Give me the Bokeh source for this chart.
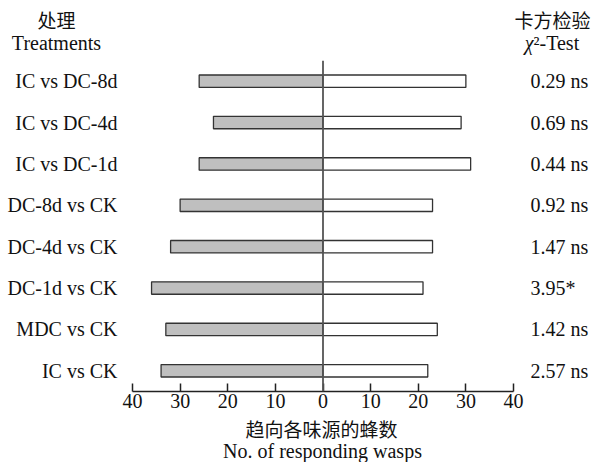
from bokeh.plotting import figure
from bokeh.layouts import column
from bokeh.models import (FactorRange, Range1d, CategoricalAxis, FixedTicker,
                          CustomJSTickFormatter, Span)
from bokeh.core.properties import value
from bokeh.embed import file_html
from bokeh.resources import INLINE

treatments = ["IC vs DC-8d", "IC vs DC-4d", "IC vs DC-1d", "DC-8d vs CK",
              "DC-4d vs CK", "DC-1d vs CK", "MDC vs CK", "IC vs CK"]
left_counts = [26, 23, 26, 30, 32, 36, 33, 34]
right_counts = [30, 29, 31, 23, 23, 21, 24, 22]
chi_labels = ["0.29 ns", "0.69 ns", "0.44 ns", "0.92 ns",
              "1.47 ns", "3.95*", "1.42 ns", "2.57 ns"]
x_ticks = [-40, -30, -20, -10, 0, 10, 20, 30, 40]
header_left = ["处理", "Treatments"]
header_right = ["卡方检验", "χ", "²-Test"]
x_title = ["趋向各味源的蜂数", "No. of responding wasps"]

SERIF = "Liberation Serif"
CJK = "Noto Sans CJK SC"
FS = "20px"
CFS = "19px"
INK = "#111111"
W = 600
H_HDR = 60
H_MAIN = 353
H_FTR = 49


def blank_fig(h):
    f = figure(width=W, height=h, output_backend="svg", toolbar_location=None,
               x_range=Range1d(0, W), y_range=Range1d(h, 0), title=None,
               min_border=0)
    f.frame_align = False
    f.axis.visible = False
    f.grid.visible = False
    f.outline_line_color = None
    return f


# ---- header ----
hdr = blank_fig(H_HDR)
hdr.text(x=[56, 552], y=[19, 19], text=[header_left[0], header_right[0]],
         text_font=value(CJK), text_font_size=value(CFS), text_color=INK,
         text_align="center", text_baseline="middle")
hdr.text(x=[56], y=[42], text=[header_left[1]],
         text_font=value(SERIF), text_font_size=value(FS), text_color=INK,
         text_align="center", text_baseline="middle")
hdr.text(x=[533], y=[42], text=[header_right[1]],
         text_font=value(SERIF), text_font_size=value(FS), text_color=INK,
         text_font_style="italic", text_align="right", text_baseline="middle")
hdr.text(x=[533], y=[42], text=[header_right[2]],
         text_font=value(SERIF), text_font_size=value(FS), text_color=INK,
         text_align="left", text_baseline="middle")

# ---- main ----
p = figure(width=W, height=H_MAIN, output_backend="svg", toolbar_location=None,
           title=None,
           x_range=Range1d(-40, 40),
           y_range=FactorRange(factors=list(reversed(treatments))),
           min_border_left=132, min_border_right=W - 513,
           min_border_top=0, min_border_bottom=22)
p.frame_align = False
p.extra_y_ranges = {"chi": FactorRange(factors=list(reversed(chi_labels)))}

p.hbar(y=treatments, left=[-v for v in left_counts], right=0, height=0.30,
       fill_color="#bfbfbf", line_color="#333333", line_width=1.3)
p.hbar(y=treatments, left=0, right=right_counts, height=0.30,
       fill_color="white", line_color="#333333", line_width=1.3)

p.add_layout(Span(location=0, dimension="height", line_color="#555555",
                  line_width=1.8))

p.xgrid.visible = False
p.ygrid.visible = False
p.outline_line_color = None

xa = p.xaxis[0]
xa.ticker = FixedTicker(ticks=x_ticks)
xa.formatter = CustomJSTickFormatter(code="return Math.abs(tick).toFixed(0);")
xa.major_tick_in = 8
xa.major_tick_out = 0
xa.minor_tick_line_color = None
xa.axis_line_color = "#222222"
xa.axis_line_width = 1.5
xa.major_tick_line_color = "#222222"
xa.major_tick_line_width = 1.5
xa.major_label_text_font = SERIF
xa.major_label_text_font_size = FS
xa.major_label_text_color = INK
xa.major_label_standoff = 2
xa.axis_label_standoff = 0

ya = p.yaxis[0]
ya.axis_line_color = None
ya.major_tick_line_color = None
ya.major_tick_in = 0
ya.major_tick_out = 0
ya.minor_tick_line_color = None
ya.major_label_text_font = SERIF
ya.major_label_text_font_size = FS
ya.major_label_text_color = INK
ya.major_label_standoff = 15

ra = CategoricalAxis(y_range_name="chi")
ra.axis_line_color = None
ra.major_tick_line_color = None
ra.major_tick_in = 0
ra.major_tick_out = 0
ra.minor_tick_line_color = None
ra.major_label_text_font = SERIF
ra.major_label_text_font_size = FS
ra.major_label_text_color = INK
ra.major_label_standoff = 17
p.add_layout(ra, "right")

# ---- footer ----
ftr = blank_fig(H_FTR)
ftr.text(x=[321], y=[15], text=[x_title[0]],
         text_font=value(CJK), text_font_size=value(CFS), text_color=INK,
         text_align="center", text_baseline="middle")
ftr.text(x=[322], y=[37], text=[x_title[1]],
         text_font=value(SERIF), text_font_size=value(FS), text_color=INK,
         text_align="center", text_baseline="middle")

layout = column(hdr, p, ftr, spacing=0)
open("out.html", "w").write(file_html(layout, INLINE))
